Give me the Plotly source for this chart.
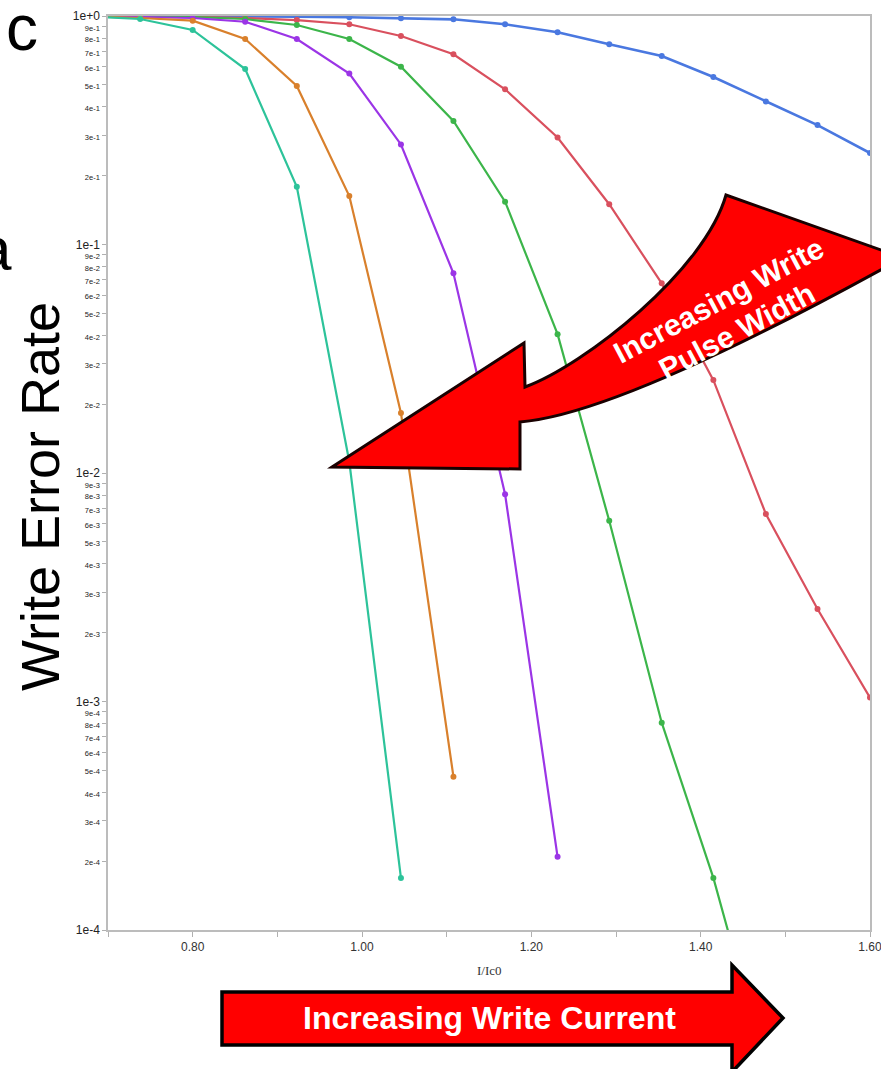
import plotly.graph_objects as go

# ---------------- data ----------------
XS = [0.677, 0.738, 0.800, 0.862, 0.923, 0.985, 1.046, 1.108, 1.169,
      1.231, 1.292, 1.354, 1.415, 1.477, 1.538, 1.600]

teal_y = [0.995, 0.970, 0.869, 0.586, 0.179, 0.0112, 0.000169]
orange_y = [0.998, 0.980, 0.954, 0.793, 0.494, 0.163, 0.0183, 0.000469]
purple_y = [0.999, 0.990, 0.980, 0.944, 0.793, 0.560, 0.274, 0.0748,
            0.00807, 0.000209]
green_y = [1.0, 0.995, 0.990, 0.970, 0.913, 0.793, 0.600, 0.347, 0.154,
           0.0405, 0.00618, 0.000808, 0.000169, 0.0000249]
red_y = [1.0, 0.998, 0.992, 0.980, 0.960, 0.920, 0.818, 0.680, 0.478,
         0.294, 0.150, 0.0676, 0.0255, 0.00662, 0.00254, 0.00104]
blue_y = [1.0, 1.0, 0.999, 0.997, 0.993, 0.987, 0.977, 0.967, 0.920,
          0.849, 0.752, 0.668, 0.541, 0.422, 0.333, 0.2515]

x_tick_vals = [0.8, 1.0, 1.2, 1.4, 1.6]
x_tick_text = ["0.80", "1.00", "1.20", "1.40", "1.60"]
decades = [-4, -3, -2, -1]
major_labels = {0: "1e+0", -1: "1e-1", -2: "1e-2", -3: "1e-3", -4: "1e-4"}

# ---------------- layout geometry ----------------
W, H = 881, 1069
L, R, T, B = 108, 11, 16, 139
PW = W - L - R
PH = H - T - B


def px(x):
    return (x - L) / PW


def py(y):
    return (H - B - y) / PH


series = [
    ("blue", blue_y, "#4a78e0", 2.6),
    ("red", red_y, "#d9505e", 2.2),
    ("green", green_y, "#3cb54a", 2.2),
    ("purple", purple_y, "#9b35e6", 2.2),
    ("orange", orange_y, "#d9802c", 2.2),
    ("teal", teal_y, "#2dc39a", 2.2),
]

fig = go.Figure()
for name, ys, col, lw in series:
    fig.add_trace(go.Scatter(
        x=XS[:len(ys)], y=ys, mode="lines+markers", name=name,
        line=dict(color=col, width=lw),
        marker=dict(color=col, size=6),
        showlegend=False,
    ))

# y ticks
tv, tt = [], []
for d in decades:
    for m in range(1, 10):
        tv.append(m * 10 ** d)
        if m == 1:
            tt.append(major_labels[d])
        else:
            tt.append('<span style="font-size:7.5px">%de%d</span>' % (m, d))
tv.append(1.0)
tt.append(major_labels[0])

axis_common = dict(showline=True, linecolor="#bcbcbc", linewidth=1.5,
                   mirror=True, ticks="outside", tickcolor="#b0b0b0",
                   showgrid=False, zeroline=False, automargin=False,
                   ticklabeloverflow="allow")

fig.update_xaxes(range=[0.7, 1.6], tickvals=x_tick_vals, ticktext=x_tick_text,
                 tickfont=dict(family="Liberation Sans", size=12, color="#333"),
                 ticklen=5,
                 minor=dict(dtick=0.1, tick0=0.8, ticks="outside", ticklen=5,
                            tickcolor="#b0b0b0"),
                 **axis_common)
fig.update_yaxes(type="log", range=[-4, 0], tickvals=tv, ticktext=tt,
                 tickfont=dict(family="Liberation Sans", size=12, color="#222"),
                 ticklen=4, **axis_common)

# ---------------- arrows ----------------
def P(x, y):
    return "%.5f,%.5f" % (px(x), py(y))


curved = ("M " + P(332, 467) + " L " + P(524, 343) + " L " + P(525, 387) +
          " C " + P(585, 365) + " " + P(705, 270) + " " + P(726, 195) +
          " L " + P(895, 255) + " L " + P(895, 262) +
          " C " + P(790, 320) + " " + P(610, 415) + " " + P(520, 422) +
          " L " + P(520, 469) + " Z")

straight = ("M " + P(222, 992) + " L " + P(732, 992) + " L " + P(732, 965) +
            " L " + P(783, 1018) + " L " + P(732, 1072) + " L " + P(732, 1045) +
            " L " + P(222, 1045) + " Z")

shapes = [
    dict(type="path", path=curved, xref="paper", yref="paper",
         fillcolor="#ff0000", line=dict(color="#1a0000", width=3), layer="above"),
    dict(type="path", path=straight, xref="paper", yref="paper",
         fillcolor="#ff0000", line=dict(color="#000000", width=3.5), layer="above"),
]

ann = [
    dict(text="<b>Increasing Write Current</b>", x=px(489), y=py(1018),
         font=dict(family="Liberation Sans", size=32, color="white")),
    dict(text="<b>Increasing Write</b>", x=px(718), y=py(300), textangle=-28,
         font=dict(family="Liberation Sans", size=30, color="white")),
    dict(text="<b>Pulse Width</b>", x=px(736), y=py(331), textangle=-28,
         font=dict(family="Liberation Sans", size=30, color="white")),
    dict(text="Write Error Rate", x=px(40), y=py(497), textangle=-90,
         font=dict(family="Liberation Sans", size=54, color="black")),
    dict(text="c", x=px(22), y=py(28),
         font=dict(family="Liberation Sans", size=64, color="black")),
    dict(text="a", x=px(14), y=py(248), xanchor="right",
         font=dict(family="Liberation Sans", size=62, color="black")),
    dict(text="I/Ic0", x=px(489), y=py(970),
         font=dict(family="Liberation Serif", size=13, color="#333")),
]
annotations = []
for a in ann:
    base = dict(xref="paper", yref="paper", showarrow=False,
                xanchor="center", yanchor="middle")
    base.update(a)
    annotations.append(base)

fig.update_layout(width=W, height=H, autosize=False,
                  margin=dict(l=L, r=R, t=T, b=B, pad=0, autoexpand=False),
                  paper_bgcolor="white", plot_bgcolor="white",
                  shapes=shapes, annotations=annotations)

fig.write_html(
    "out.html",
    config={"responsive": False, "displayModeBar": False},
    post_script="document.body.style.margin='0';"
                "document.body.style.overflow='hidden';",
)
